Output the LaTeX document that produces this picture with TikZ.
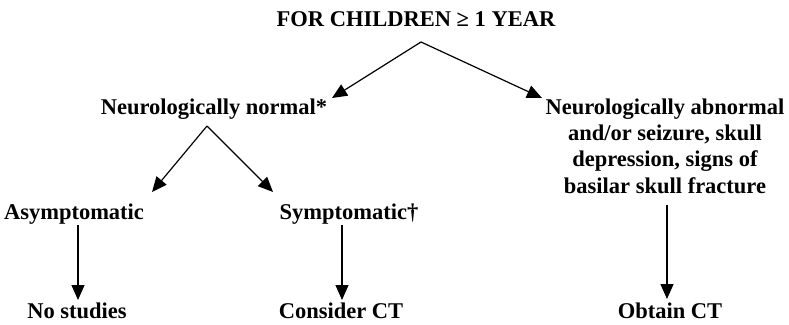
\documentclass[tikz,border=0pt]{standalone}
\usepackage{fontspec}
\setmainfont{Liberation Serif}
\usetikzlibrary{arrows.meta}
\begin{document}
\begin{tikzpicture}[x=1pt,y=-1pt,
  lbl/.style={font=\bfseries\fontsize{22.5}{26.3}\selectfont, inner sep=0pt, align=center, anchor=base},
  arr/.style={line width=1.2pt, -{Triangle[width=13pt,length=15pt]}}]
\useasboundingbox (0,0) rectangle (789,324);
\node[lbl] (title) at (416,27) {FOR CHILDREN ≥ 1 YEAR};
\node[lbl] (nn) at (214,114) {Neurologically normal*};
\node[lbl] (na) at (665,193) {Neurologically abnormal\\and/or seizure, skull\\depression, signs of\\basilar skull fracture};
\node[lbl] (asym) at (74,219) {Asymptomatic};
\node[lbl] (sym) at (349,219) {Symptomatic†};
\node[lbl] (nos) at (77,318) {No studies};
\node[lbl] (cct) at (341,318) {Consider CT};
\node[lbl] (oct) at (670,318) {Obtain CT};
\coordinate (apex1) at (421,42);
\coordinate (t1l) at (332,98);
\coordinate (t1r) at (542,98);
\coordinate (apex2) at (207,126);
\coordinate (t2l) at (152,192);
\coordinate (t2r) at (273,192);
\coordinate (s1) at (78,225);
\coordinate (e1) at (78,300);
\coordinate (s2) at (342,225);
\coordinate (e2) at (342,300);
\coordinate (s3) at (667,205);
\coordinate (e3) at (667,299);
\draw[arr] (apex1) -- (t1l);
\draw[arr] (apex1) -- (t1r);
\draw[arr] (apex2) -- (t2l);
\draw[arr] (apex2) -- (t2r);
\draw[arr] (s1) -- (e1);
\draw[arr] (s2) -- (e2);
\draw[arr] (s3) -- (e3);
\end{tikzpicture}
\end{document}
